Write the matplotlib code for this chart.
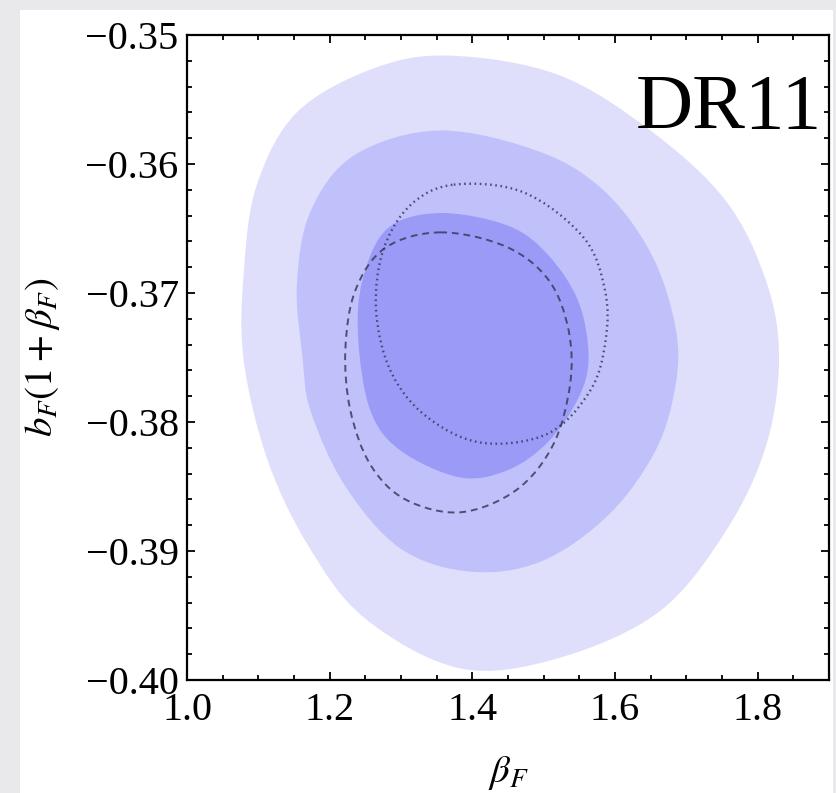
import matplotlib
matplotlib.use("Agg")
import matplotlib.pyplot as plt
import numpy as np
from matplotlib.path import Path
from matplotlib.patches import PathPatch, Rectangle
from matplotlib.ticker import MultipleLocator, ScalarFormatter

plt.rcParams['font.family'] = ['Liberation Serif', 'DejaVu Serif']
plt.rcParams['mathtext.fontset'] = 'stix'

# confidence regions (outer -> inner), boundary points
outer_beta = [1.079, 1.080, 1.098, 1.154, 1.261, 1.369, 1.521, 1.652, 1.756, 1.812,
              1.830, 1.812, 1.756, 1.662, 1.521, 1.383, 1.249, 1.169, 1.112]
outer_b = [-0.3750, -0.3681, -0.3616, -0.3560, -0.3526, -0.3516, -0.3531, -0.3575, -0.3629, -0.3691,
           -0.3750, -0.3818, -0.3884, -0.3947, -0.3983, -0.3991, -0.3952, -0.3895, -0.3828]

mid_beta = [1.162, 1.154, 1.173, 1.235, 1.355, 1.497, 1.587, 1.652, 1.685, 1.685,
            1.657, 1.591, 1.497, 1.397, 1.299, 1.221, 1.173]
mid_b = [-0.3750, -0.3694, -0.3637, -0.3593, -0.3574, -0.3591, -0.3622, -0.3671, -0.3727, -0.3771,
         -0.3822, -0.3872, -0.3908, -0.3916, -0.3898, -0.3849, -0.3791]

inner_beta = [1.240, 1.246, 1.281, 1.355, 1.451, 1.507, 1.549, 1.563, 1.549, 1.507,
              1.451, 1.383, 1.299, 1.257]
inner_b = [-0.3736, -0.3690, -0.3650, -0.3638, -0.3648, -0.3671, -0.3707, -0.3750, -0.3781, -0.3815,
           -0.3837, -0.3843, -0.3822, -0.3791]

# dashed and dotted contours
dash_beta = [1.355, 1.447, 1.507, 1.535, 1.537, 1.513, 1.461, 1.383, 1.306, 1.257,
             1.229, 1.222, 1.236, 1.278]
dash_b = [-0.3653, -0.3664, -0.3690, -0.3729, -0.3771, -0.3818, -0.3853, -0.3870, -0.3860, -0.3833,
          -0.3791, -0.3744, -0.3698, -0.3665]

dot_beta = [1.374, 1.472, 1.556, 1.586, 1.587, 1.566, 1.506, 1.412, 1.334, 1.285,
            1.265, 1.275, 1.313]
dot_b = [-0.3616, -0.3622, -0.3657, -0.3698, -0.3736, -0.3775, -0.3809, -0.3816, -0.3795, -0.3760,
         -0.3713, -0.3667, -0.3632]

region_colors = ['#dfdffc', '#c0c1fa', '#9b9bf7']


def closed_curve(xs, ys):
    # smooth closed path through the points (catmull-rom as cubic beziers)
    p = np.column_stack([xs, ys])
    n = len(p)
    verts = [p[0]]
    codes = [Path.MOVETO]
    for i in range(n):
        p0, p1, p2, p3 = p[i - 1], p[i], p[(i + 1) % n], p[(i + 2) % n]
        verts += [p1 + (p2 - p0) / 6.0, p2 - (p3 - p1) / 6.0, p2]
        codes += [Path.CURVE4] * 3
    verts.append(p[0])
    codes.append(Path.CLOSEPOLY)
    return Path(verts, codes)


fig = plt.figure(figsize=(8.37, 7.93), dpi=100, facecolor='#e9e9eb')
fig.patches.append(Rectangle((20 / 837, 0), 813 / 837, 783 / 793, transform=fig.transFigure,
                             facecolor='white', edgecolor='none', zorder=-10))
ax = fig.add_axes([187 / 837, 1 - 680 / 793, 642 / 837, 645 / 793])

for (xs, ys), c in zip([(outer_beta, outer_b), (mid_beta, mid_b), (inner_beta, inner_b)], region_colors):
    ax.add_patch(PathPatch(closed_curve(xs, ys), facecolor=c, edgecolor='none', zorder=1))

ax.add_patch(PathPatch(closed_curve(dash_beta, dash_b), fill=False, edgecolor='#3a3a5c',
                       lw=1.4, linestyle=(0, (3.5, 2.5)), alpha=0.85, zorder=3))
ax.add_patch(PathPatch(closed_curve(dot_beta, dot_b), fill=False, edgecolor='#3a3a5c',
                       lw=1.7, linestyle=(0, (0.7, 1.5)), alpha=0.85, zorder=3))

ax.set_xlim(1.0, 1.9)
ax.set_ylim(-0.40, -0.35)
ax.xaxis.set_major_locator(MultipleLocator(0.2))
ax.xaxis.set_minor_locator(MultipleLocator(0.05))
ax.yaxis.set_major_locator(MultipleLocator(0.01))
ax.yaxis.set_minor_locator(MultipleLocator(0.002))
ax.yaxis.set_major_formatter(ScalarFormatter(useOffset=False))
ax.tick_params(which='both', direction='in', top=True, right=True, labelsize=29, width=1.3)
ax.tick_params(which='major', length=6, pad=6)
ax.tick_params(which='minor', length=3.5)
ax.tick_params(axis='x', which='major', pad=9)
for s in ax.spines.values():
    s.set_linewidth(1.6)

ax.set_xlabel(r'$\beta_F$', fontsize=28)
ax.set_ylabel(r'$b_F(1+\beta_F)$', fontsize=28)
ax.xaxis.set_label_coords(0.5, -0.115)
ax.yaxis.set_label_coords(-0.195, 0.5)

ax.text(0.989, 0.856, 'DR11', transform=ax.transAxes, ha='right', va='baseline', fontsize=57)

fig.savefig('out.png', dpi=100)
